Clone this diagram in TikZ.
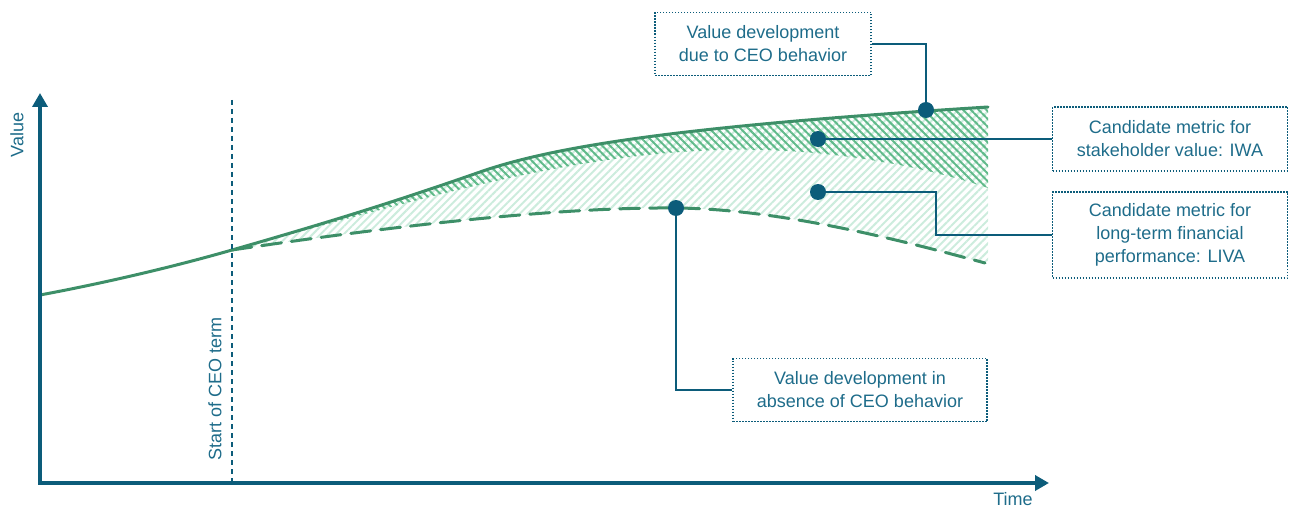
\documentclass[tikz,border=0pt]{standalone}
\usepackage{fontspec}
\setmainfont{Liberation Sans}
\usetikzlibrary{arrows.meta,patterns.meta}

\definecolor{axisblue}{RGB}{12,92,122}
\definecolor{textblue}{RGB}{30,108,138}
\definecolor{curvegreen}{RGB}{61,143,104}
\definecolor{hatchdark}{RGB}{96,186,138}
\definecolor{hatchlight}{RGB}{204,236,221}

\begin{document}
\begin{tikzpicture}[x=1pt, y=-1pt,
    axis/.style={axisblue, line width=3.5pt, line join=miter,
        {Triangle[width=15pt,length=14pt]}-{Triangle[width=15pt,length=14pt]}},
    label/.style={text=textblue, font=\fontsize{18}{23}\selectfont, align=center},
    infobox/.style={label, draw=axisblue, line width=1.5pt,
        dash pattern=on 1.5pt off 1.5pt, inner sep=0pt},
    dot/.style={circle, fill=axisblue, inner sep=0pt, minimum size=16pt},
    link/.style={axisblue, line width=1.5pt},
    valueline/.style={curvegreen, line width=3pt, line cap=round}]

    \useasboundingbox (0,0) rectangle (1291,508);

    % Hatched areas
    \fill[pattern={Lines[angle=45, distance=5.5pt, line width=2pt]}, pattern color=hatchlight]
        (232,250) .. controls (330,222) and (400,200) .. (480,172)
        .. controls (560,144) and (700,125) .. (988,107)
        -- (988,263) -- (985,263)
        .. controls (900,240) and (780,209) .. (676,208)
        .. controls (560,207) and (400,225) .. (232,250) -- cycle;
    \fill[pattern={Lines[angle=-45, distance=5.5pt, line width=2pt]}, pattern color=hatchdark]
        (232,250) .. controls (330,222) and (400,200) .. (480,172)
        .. controls (560,144) and (700,125) .. (988,107)
        -- (988,188)
        .. controls (920,165) and (820,147) .. (720,150)
        .. controls (560,155) and (420,200) .. (232,250) -- cycle;

    % Value lines
    \draw[valueline] (40,295) .. controls (110,282) and (180,265) .. (232,250)
        .. controls (330,222) and (400,200) .. (480,172)
        .. controls (560,144) and (700,125) .. (988,107);
    \draw[valueline, dash pattern=on 20pt off 10pt] (232,250)
        .. controls (400,225) and (560,207) .. (676,208)
        .. controls (780,209) and (900,240) .. (985,263);

    % Start of CEO term
    \coordinate (termtop) at (232,100);
    \coordinate (termbot) at (232,483);
    \draw[axisblue, line width=1.2pt, dash pattern=on 5pt off 4pt] (termtop) -- (termbot);
    \node[label, rotate=90] (termlabel) at (215,389) {Start of CEO term};

    % Axes
    \coordinate (ytip) at (40,93);
    \coordinate (origin) at (40,483);
    \coordinate (xtip) at (1049,483);
    \draw[axis] (ytip) -- (origin) -- (xtip);
    \node[label, rotate=90] (ylabel) at (17,135) {Value};
    \node[label] (xlabel) at (1013,499) {Time};

    % Markers
    \node[dot] (dotdev) at (926,110) {};
    \node[dot] (dotiwa) at (818,139) {};
    \node[dot] (dotliva) at (818,192) {};
    \node[dot] (dotabs) at (676,208) {};

    % Boxes
    \node[infobox, minimum width=216pt, minimum height=63pt] (devbox) at (763,44)
        {Value development\\due to CEO behavior};
    \node[infobox, minimum width=235pt, minimum height=64pt] (iwabox) at (1170,139)
        {Candidate metric for\\stakeholder value: IWA};
    \node[infobox, minimum width=235pt, minimum height=86pt] (livabox) at (1170,235)
        {Candidate metric for\\long-term financial\\performance: LIVA};
    \node[infobox, minimum width=254pt, minimum height=63pt] (absbox) at (860,390)
        {Value development in\\absence of CEO behavior};

    % Links
    \coordinate (livabend) at (936,192);
    \draw[link] (devbox.east) -| (dotdev);
    \draw[link] (dotiwa) -- (iwabox.west);
    \draw[link] (dotliva) -- (livabend) |- (livabox.west);
    \draw[link] (dotabs) |- (absbox.west);
\end{tikzpicture}
\end{document}
